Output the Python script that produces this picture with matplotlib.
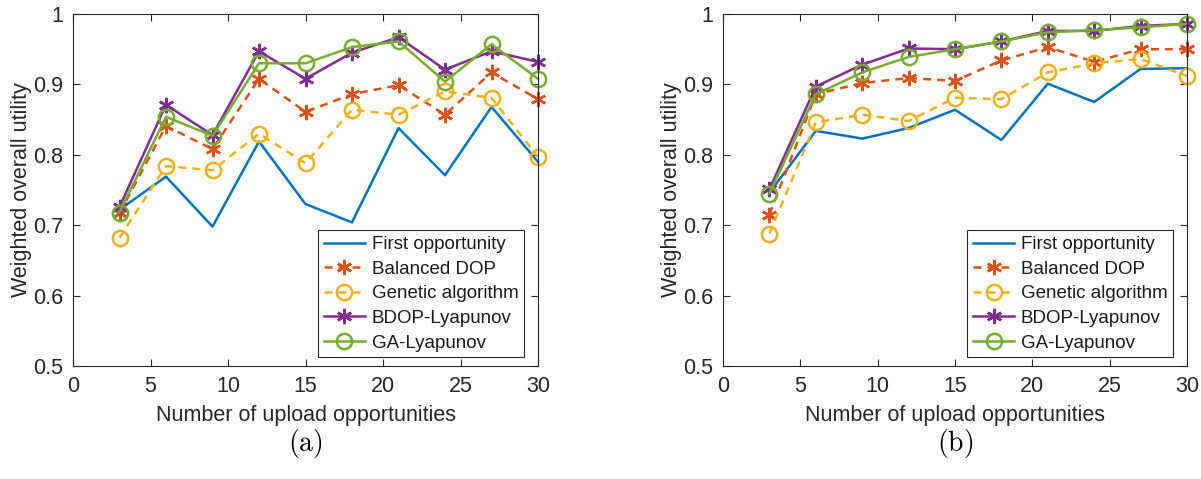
import matplotlib.pyplot as plt
import numpy as np

plt.rcParams['font.family'] = ['Liberation Sans', 'DejaVu Sans']
plt.rcParams['mathtext.fontset'] = 'cm'

# upload opportunities on the x axis
opportunities = [3, 6, 9, 12, 15, 18, 21, 24, 27, 30]

labels = ['First opportunity', 'Balanced DOP', 'Genetic algorithm',
          'BDOP-Lyapunov', 'GA-Lyapunov']

# panel (a)
first_a = [0.722, 0.769, 0.698, 0.819, 0.730, 0.704, 0.838, 0.771, 0.868, 0.790]
bdop_a = [0.717, 0.841, 0.808, 0.908, 0.861, 0.886, 0.899, 0.857, 0.917, 0.879]
genetic_a = [0.682, 0.784, 0.778, 0.830, 0.788, 0.864, 0.857, 0.890, 0.881, 0.797]
bdop_lyap_a = [0.726, 0.871, 0.828, 0.947, 0.908, 0.945, 0.967, 0.921, 0.947, 0.932]
ga_lyap_a = [0.718, 0.854, 0.827, 0.930, 0.930, 0.953, 0.961, 0.904, 0.957, 0.908]

# panel (b)
first_b = [0.746, 0.834, 0.823, 0.838, 0.864, 0.821, 0.901, 0.875, 0.922, 0.923]
bdop_b = [0.715, 0.886, 0.902, 0.909, 0.905, 0.934, 0.953, 0.932, 0.950, 0.950]
genetic_b = [0.688, 0.846, 0.857, 0.848, 0.881, 0.879, 0.917, 0.930, 0.936, 0.912]
bdop_lyap_b = [0.751, 0.897, 0.928, 0.951, 0.950, 0.961, 0.976, 0.976, 0.983, 0.986]
ga_lyap_b = [0.745, 0.886, 0.917, 0.939, 0.950, 0.961, 0.974, 0.977, 0.981, 0.986]

colors = ['#0072BD', '#D95319', '#EDB120', '#7E2F8E', '#77AC30']
styles = ['-', '--', '--', '-', '-']
markers = [None, (6, 2, 0), 'o', (6, 2, 0), 'o']


def draw_panel(ax, series, caption, ylabel=True):
    for y, lab, c, ls, m in zip(series, labels, colors, styles, markers):
        ax.plot(opportunities, y, color=c, linestyle=ls, lw=1.8, marker=m,
                markersize=11, markerfacecolor='none', markeredgecolor=c,
                markeredgewidth=1.8, dashes=(3.2, 2.4) if ls == '--' else (None, None),
                label=lab, clip_on=False)
    ax.set_xlim(0, 30)
    ax.set_ylim(0.5, 1)
    ax.set_xticks(np.arange(0, 31, 5))
    ax.set_yticks([0.5, 0.6, 0.7, 0.8, 0.9, 1.0])
    ax.set_yticklabels(['0.5', '0.6', '0.7', '0.8', '0.9', '1'])
    ax.tick_params(direction='in', top=True, right=True, length=5,
                   width=0.8, color='#262626', labelsize=15.5, labelcolor='#262626')
    ax.tick_params(axis='x', pad=7)
    ax.tick_params(axis='y', pad=7)
    for sp in ax.spines.values():
        sp.set_color('#262626')
        sp.set_linewidth(0.8)
    ax.set_xlabel('Number of upload opportunities', fontsize=15.5,
                  color='#262626', labelpad=6)
    if ylabel:
        ax.set_ylabel('Weighted overall utility', fontsize=15.5,
                      color='#262626', labelpad=1)
    leg = ax.legend(loc='lower right', bbox_to_anchor=(0.97, 0.025),
                    fontsize=13.5, fancybox=False, framealpha=1,
                    edgecolor='#262626', handlelength=2.2, handletextpad=0.35,
                    borderpad=0.3, labelspacing=0.4, borderaxespad=0)
    leg.get_frame().set_linewidth(0.8)
    for t in leg.get_texts():
        t.set_color('#1a1a1a')
    pos = ax.get_position()
    fig.text(pos.x0 + pos.width / 2, 0.074, caption, ha='center', va='center',
             fontsize=20)


fig = plt.figure(figsize=(12.01, 4.79), dpi=100)
ax1 = fig.add_axes([73 / 1201, 1 - 366 / 479, 465 / 1201, 352 / 479])
ax2 = fig.add_axes([723 / 1201, 1 - 366 / 479, 464 / 1201, 352 / 479])

draw_panel(ax1, [first_a, bdop_a, genetic_a, bdop_lyap_a, ga_lyap_a], r'$\mathrm{(a)}$')
draw_panel(ax2, [first_b, bdop_b, genetic_b, bdop_lyap_b, ga_lyap_b], r'$\mathrm{(b)}$')

fig.savefig('out.png', dpi=100)
